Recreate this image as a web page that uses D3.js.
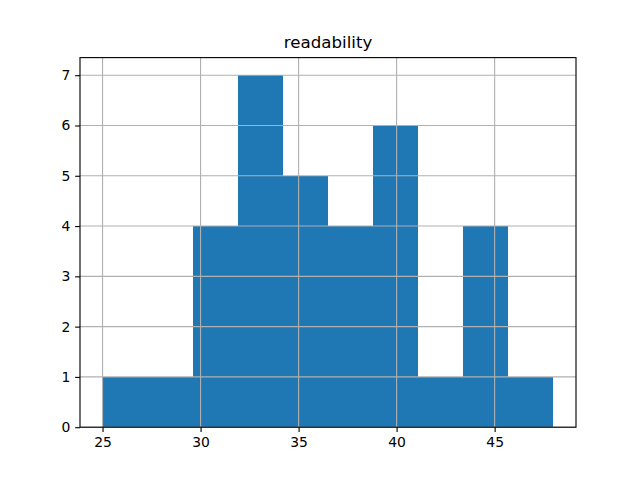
<!DOCTYPE html>
<html><head><meta charset="utf-8">
<script src="https://cdn.jsdelivr.net/npm/d3@7"></script>
<style>body{margin:0;background:#fff}svg{display:block}text{font-family:"DejaVu Sans",sans-serif;fill:#000}</style>
</head><body>
<script>
const binEdges = [25.0, 27.3, 29.6, 31.9, 34.2, 36.5, 38.8, 41.1, 43.4, 45.7, 48.0];
const counts = [1, 1, 4, 7, 5, 4, 6, 1, 4, 1];
const xTicks = [25, 30, 35, 40, 45];
const yTicks = [0, 1, 2, 3, 4, 5, 6, 7];
const title = "readability";

const W = 640, H = 480;
const L = 80, R = 576, T = 57.6, B = 427.2;
const svg = d3.select("body").append("svg").attr("width", W).attr("height", H);
const xmin = binEdges[0], xmax = binEdges[binEdges.length - 1];
const pad = (xmax - xmin) * 0.05;
const x = d3.scaleLinear().domain([xmin - pad, xmax + pad]).range([L, R]);
const ymax = d3.max(counts) * 1.05;
const y = d3.scaleLinear().domain([0, ymax]).range([B, T]);

const bins = counts.map((c, i) => ({x0: binEdges[i], x1: binEdges[i + 1], c}));
svg.append("g").selectAll("rect").data(bins).join("rect")
  .attr("x", d => x(d.x0)).attr("width", d => x(d.x1) - x(d.x0))
  .attr("y", d => y(d.c)).attr("height", d => y(0) - y(d.c))
  .attr("fill", "#1f77b4").attr("shape-rendering", "crispEdges");

// grid
const g = svg.append("g").attr("stroke", "#b0b0b0").attr("stroke-width", 0.8 * 1.389);
xTicks.forEach(t => g.append("line").attr("x1", x(t)).attr("x2", x(t)).attr("y1", T).attr("y2", B));
yTicks.forEach(t => g.append("line").attr("x1", L).attr("x2", R).attr("y1", y(t)).attr("y2", y(t)));

// axes
const xAxis = d3.axisBottom(x).tickValues(xTicks).tickSize(4.86).tickPadding(3.5 * 1.389).tickFormat(d3.format("d"));
const yAxis = d3.axisLeft(y).tickValues(yTicks).tickSize(4.86).tickPadding(3.5 * 1.389).tickFormat(d3.format("d"));
const gx = svg.append("g").attr("transform", `translate(0,${B})`).call(xAxis);
const gy = svg.append("g").attr("transform", `translate(${L},0)`).call(yAxis);
[gx, gy].forEach(a => {
  a.select(".domain").remove();
  a.selectAll("line").attr("stroke", "#000").attr("stroke-width", 1.11);
  a.selectAll("text").attr("font-size", 13.9).attr("font-family", "DejaVu Sans").attr("fill", "#000");
});
// spines
svg.append("rect").attr("x", L).attr("y", T).attr("width", R - L).attr("height", B - T)
  .attr("fill", "none").attr("stroke", "#000").attr("stroke-width", 1.11);

svg.append("text").attr("x", (L + R) / 2).attr("y", T - 8.33 - 1.2).attr("text-anchor", "middle")
  .attr("font-size", 16.67).text(title);
</script>
</body></html>
